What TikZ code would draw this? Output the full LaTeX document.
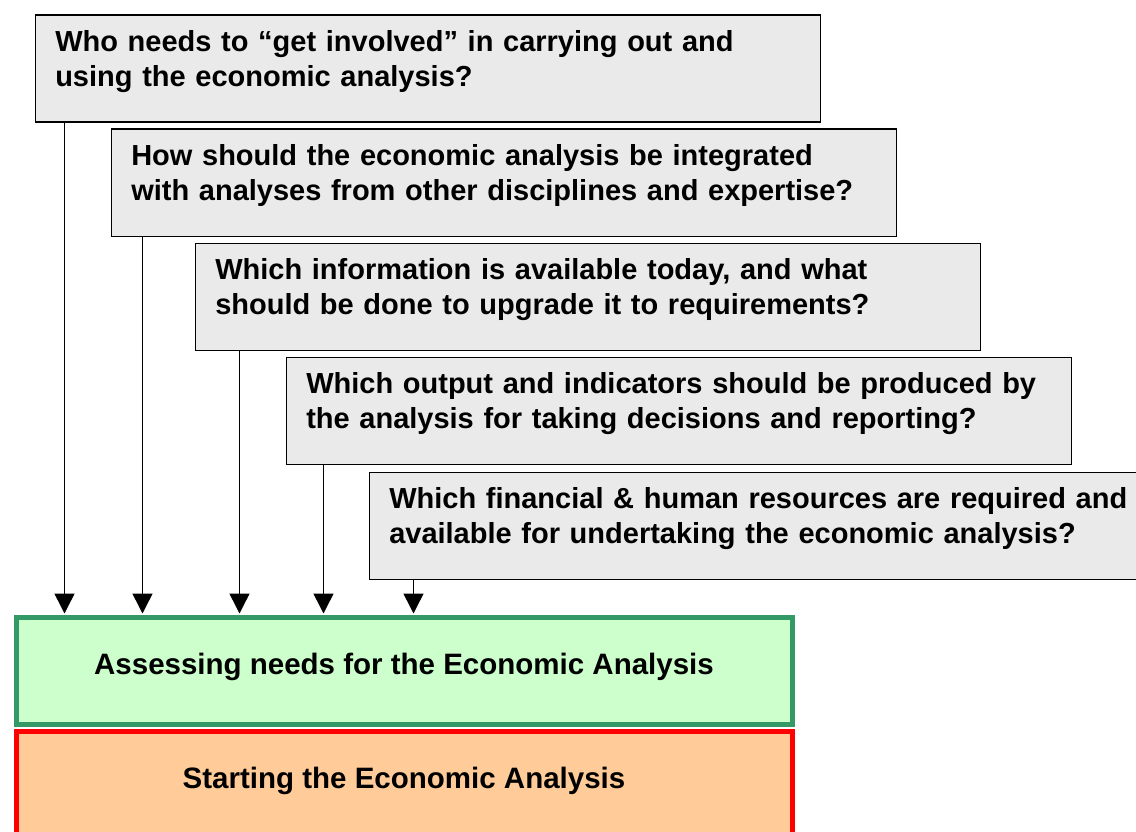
\documentclass[tikz,border=0pt]{standalone}
\usepackage{fontspec}
\setmainfont{Liberation Sans}
\usepackage{tikz}
\usetikzlibrary{calc,arrows.meta}
\definecolor{boxgray}{RGB}{234,234,234}
\definecolor{needfill}{RGB}{204,255,204}
\definecolor{needline}{RGB}{51,153,102}
\definecolor{startfill}{RGB}{255,204,153}

\begin{document}
\begin{tikzpicture}[x=1pt,y=-1pt,
  question/.style={draw=black,line width=1.5pt,fill=boxgray,anchor=north west,
    text width=745pt,align=left,inner xsep=20pt,inner ysep=10pt,
    text height=26pt,text depth=61pt,font=\fontsize{29}{35}\selectfont\bfseries},
  stage/.style={line width=5pt,anchor=north west,minimum width=776pt,inner ysep=0pt,
    text height=57pt,text depth=50pt,font=\fontsize{29.5}{34}\selectfont\bfseries},
  arr/.style={line width=1.5pt,-{Triangle[width=20pt,length=20pt]},shorten >=1pt}]
\clip (0,0) rectangle (1136,832);
% questions
\node[question] (q1) at (34.5,14.5) {Who needs to “get involved” in carrying out and\\using the economic analysis?};
\node[question] (q2) at (110.5,128.5) {How should the economic analysis be integrated\\with analyses from other disciplines and expertise?};
\node[question] (q3) at (194.5,242.5) {Which information is available today, and what\\should be done to upgrade it to requirements?};
\node[question] (q4) at (285.5,356.5) {Which output and indicators should be produced by\\the analysis for taking decisions and reporting?};
\node[question] (q5) at (368.5,471.5) {Which financial \& human resources are required and\\available for undertaking the economic analysis?};
% stages
\node[stage,draw=needline,fill=needfill] (need) at (13.5,614.5) {Assessing needs for the Economic Analysis};
\node[stage,draw=red,fill=startfill] (start) at (13.5,728.5) {Starting the Economic Analysis};
% arrows
\foreach \q/\dx in {q1/30,q2/32,q3/45,q4/38,q5/45}
  \draw[arr] ($(\q.south west)+(\dx,0)$) coordinate (t) -- (t |- need.north);
\end{tikzpicture}
\end{document}
